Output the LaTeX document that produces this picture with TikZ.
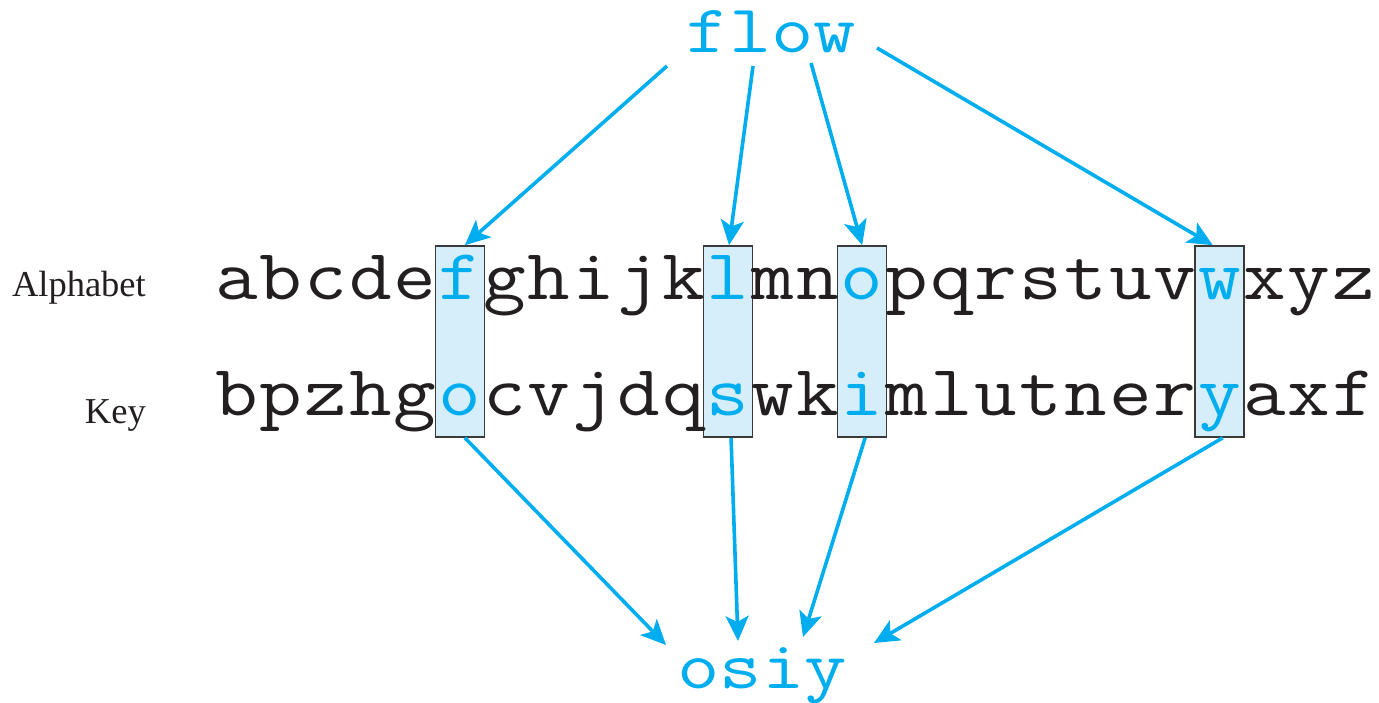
\documentclass[tikz,border=0pt]{standalone}
\usepackage{fontspec}
\usetikzlibrary{arrows.meta}
\newfontfamily\labelfont{Liberation Serif}
\definecolor{flowcyan}{HTML}{00AEEF}
\definecolor{cellfill}{HTML}{D5EEFA}
\definecolor{cellline}{HTML}{3A3A3A}
\definecolor{ink}{HTML}{231F20}
% widened typewriter glyphs
\newcommand\widett[1]{\scalebox{1.15}[1]{#1}}
\newcommand\wordtt[1]{\scalebox{1.21}[1]{#1}}
\tikzset{
  letter/.style={inner sep=0pt, anchor=base, text=ink,
    font=\ttfamily\fontsize{72}{72}\selectfont},
  word/.style={inner sep=0pt, anchor=base, text=flowcyan,
    font=\ttfamily\fontsize{68}{68}\selectfont},
  rowlabel/.style={inner sep=0pt, anchor=base east, text=ink,
    font=\labelfont\fontsize{36.5}{36.5}\selectfont},
  cellbox/.style={draw=cellline, fill=cellfill, line width=1.6pt,
    minimum width=49pt, minimum height=191pt, inner sep=0pt},
  arr/.style={draw=flowcyan, line width=3.6pt,
    -{Stealth[length=25pt, width=23pt, inset=6pt]}},
}
\begin{document}
\begin{tikzpicture}[x=1pt, y=-1pt]
\useasboundingbox (0,0) rectangle (1379,702);

% highlighted columns
\node[cellbox] (bf) at ({214+5.5*44.7}, 341.5) {};
\node[cellbox] (bl) at ({214+11.5*44.7}, 341.5) {};
\node[cellbox] (bo) at ({214+14.5*44.7}, 341.5) {};
\node[cellbox] (bw) at ({214+22.5*44.7}, 341.5) {};

% row labels
\node[rowlabel] (lalpha) at (146, 296) {Alphabet};
\node[rowlabel] (lkey) at (146, 423) {Key};

% plain alphabet
\foreach \ch/\cl [count=\i from 0] in
  {a/ink,b/ink,c/ink,d/ink,e/ink,f/flowcyan,g/ink,h/ink,i/ink,j/ink,k/ink,
   l/flowcyan,m/ink,n/ink,o/flowcyan,p/ink,q/ink,r/ink,s/ink,t/ink,u/ink,
   v/ink,w/flowcyan,x/ink,y/ink,z/ink}
  \node[letter, text=\cl] (A\i) at ({214+(\i+0.5)*44.7}, 299) {\widett{\ch}};

% key alphabet
\foreach \ch/\cl [count=\i from 0] in
  {b/ink,p/ink,z/ink,h/ink,g/ink,o/flowcyan,c/ink,v/ink,j/ink,d/ink,q/ink,
   s/flowcyan,w/ink,k/ink,i/flowcyan,m/ink,l/ink,u/ink,t/ink,n/ink,e/ink,
   r/ink,y/flowcyan,a/ink,x/ink,f/ink}
  \node[letter, text=\cl] (K\i) at ({214+(\i+0.5)*44.7}, 415) {\widett{\ch}};

% plaintext and ciphertext
\node[word] (flow) at (771.5, 52) {\wordtt{flow}};
\node[word] (osiy) at (762, 688) {\wordtt{osiy}};

% arrow ends near the words
\coordinate (p1) at (667, 66);
\coordinate (p2) at (753, 66);
\coordinate (p3) at (811, 63);
\coordinate (p4) at (877, 48);
\coordinate (c1) at (666, 645);
\coordinate (c2) at (738, 641);
\coordinate (c3) at (803, 637);
\coordinate (c4) at (874, 643);

% plaintext letters into the alphabet
\draw[arr] (p1) -- ([xshift=5pt]bf.north);
\draw[arr] (p2) -- ([xshift=1pt]bl.north);
\draw[arr] (p3) -- (bo.north);
\draw[arr] (p4) -- ([xshift=-7pt]bw.north);

% key letters into the ciphertext
\draw[arr] ([xshift=5pt]bf.south) -- (c1);
\draw[arr] ([xshift=3pt]bl.south) -- (c2);
\draw[arr] ([xshift=3pt]bo.south) -- (c3);
\draw[arr] ([xshift=3pt]bw.south) -- (c4);
\end{tikzpicture}
\end{document}
